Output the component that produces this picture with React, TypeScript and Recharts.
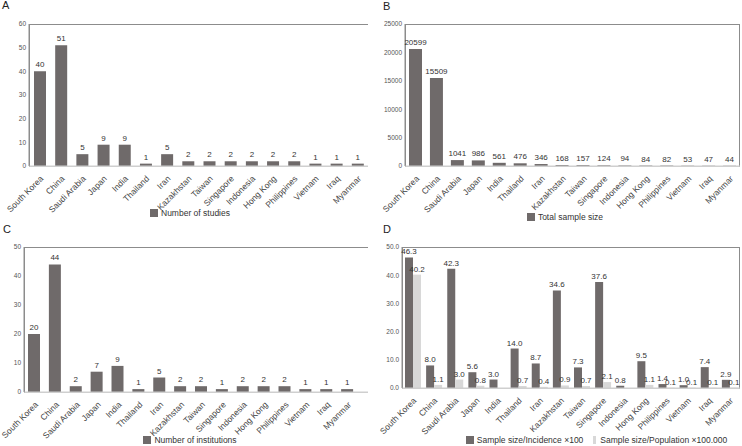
import React from "react";
import {
  BarChart,
  Bar,
  XAxis,
  YAxis,
  LabelList,
  Legend,
} from "recharts";

const countries = [
  "South Korea", "China", "Saudi Arabia", "Japan", "India", "Thailand", "Iran",
  "Kazakhstan", "Taiwan", "Singapore", "Indonesia", "Hong Kong", "Philippines",
  "Vietnam", "Iraq", "Myanmar",
];

const studies = [40, 51, 5, 9, 9, 1, 5, 2, 2, 2, 2, 2, 2, 1, 1, 1];
const sampleSize = [20599, 15509, 1041, 986, 561, 476, 346, 168, 157, 124, 94, 84, 82, 53, 47, 44];
const institutions = [20, 44, 2, 7, 9, 1, 5, 2, 2, 1, 2, 2, 2, 1, 1, 1];
const perIncidence = [46.3, 8.0, 42.3, 5.6, 3.0, 14.0, 8.7, 34.6, 7.3, 37.6, 0.8, 9.5, 1.4, 1.0, 7.4, 2.9];
const perPopulation = [40.2, 1.1, 3.0, 0.8, 0.0, 0.7, 0.4, 0.9, 0.7, 2.1, 0.0, 1.1, 0.1, 0.1, 0.1, 0.1];

const ticksA = [0, 10, 20, 30, 40, 50, 60];
const ticksB = [0, 5000, 10000, 15000, 20000, 25000];
const ticksC = [0, 10, 20, 30, 40, 50];
const ticksD = [0, 10, 20, 30, 40, 50];

const dataA = countries.map((c, i) => ({ country: c, value: studies[i] }));
const dataB = countries.map((c, i) => ({ country: c, value: sampleSize[i] }));
const dataC = countries.map((c, i) => ({ country: c, value: institutions[i] }));
const dataD = countries.map((c, i) => ({ country: c, inc: perIncidence[i], pop: perPopulation[i] }));

const FONT = "'Liberation Sans', Arial, sans-serif";
const DARK = "#6f6a6a";
const LIGHT = "#d8d8d8";
const FRAME = "#8c8c8c";
const BASE = "#cfcfcf";

const W = 371;
const H = 223;
const TOP = 24;

const renderLegend = (props: any) => {
  const { payload } = props;
  return (
    <div style={{ display: "flex", justifyContent: "center", gap: 10, fontFamily: FONT, fontSize: 8.5, lineHeight: "10px", color: "#333" }}>
      {payload.map((p: any) => (
        <div key={p.value} style={{ display: "flex", alignItems: "center", height: 10 }}>
          <svg width={p.color === LIGHT ? 4 : 8} height={8} style={{ marginRight: 3, display: "block" }}>
            <rect x={0} y={0} width={p.color === LIGHT ? 3 : 8} height={8} fill={p.color} />
          </svg>
          <span style={{ whiteSpace: "nowrap" }}>{p.value}</span>
        </div>
      ))}
    </div>
  );
};

const xAxisProps = {
  dataKey: "country",
  interval: 0 as const,
  angle: -45,
  textAnchor: "end",
  tickLine: false,
  tickMargin: 3,
  tick: { fontSize: 8.5, fill: "#444", fontFamily: FONT },
  axisLine: { stroke: BASE },
};

const yAxisProps = {
  tickLine: false,
  tickSize: 0,
  tickMargin: 3,
  tick: { fontSize: 6.5, fill: "#555", fontFamily: FONT },
  axisLine: { stroke: FRAME },
};

const labelStyle = { fontSize: 8, fill: "#333", fontFamily: FONT };

const Letter = ({ ch, x, y }: { ch: string; x: number; y: number }) => (
  <div style={{ position: "absolute", left: x, top: y, fontFamily: FONT, fontSize: 11, color: "#222", lineHeight: "11px" }}>{ch}</div>
);

// plot-area frame, built from the same layout numbers handed to the chart
const Frame = ({ yW, xH, right, box }: { yW: number; xH: number; right: number; box: boolean }) => (
  <div
    style={{
      position: "absolute",
      left: yW,
      top: TOP,
      width: W - yW - right,
      height: H - TOP - xH + 1,
      boxSizing: "border-box",
      borderLeft: `1px solid ${FRAME}`,
      borderTop: `1px solid ${FRAME}`,
      borderRight: box ? `1px solid ${FRAME}` : "none",
      borderBottom: `1px solid ${BASE}`,
      pointerEvents: "none",
    }}
  />
);

const Panel = ({ left, top, children }: { left: number; top: number; children: React.ReactNode }) => (
  <div style={{ position: "absolute", left, top, width: W, height: H }}>{children}</div>
);

export default function App() {
  return (
    <div style={{ position: "absolute", left: 0, top: 0, width: 742, height: 446, background: "#fff", overflow: "hidden" }}>
      <Letter ch="A" x={2} y={0} />
      <Letter ch="B" x={383} y={1} />
      <Letter ch="C" x={3} y={224} />
      <Letter ch="D" x={383} y={224} />

      <Panel left={0} top={0}>
        <Frame yW={29} xH={57} right={3} box={false} />
        <div style={{ position: "absolute", left: 0, top: 0 }}>
          <BarChart width={W} height={H} data={dataA} margin={{ top: TOP, right: 3, left: 0, bottom: 0 }}>
            <XAxis {...xAxisProps} height={57} />
            <YAxis {...yAxisProps} width={29} domain={[0, 60]} ticks={ticksA} />
            <Bar dataKey="value" name="Number of studies" fill={DARK} barSize={12} isAnimationActive={false}>
              <LabelList dataKey="value" position="top" offset={4} style={labelStyle} />
            </Bar>
            <Legend verticalAlign="middle" align="center" layout="horizontal" content={renderLegend} wrapperStyle={{ top: 208, left: 90, width: 200 }} />
          </BarChart>
        </div>
      </Panel>

      <Panel left={371} top={0}>
        <Frame yW={34} xH={57} right={2} box={true} />
        <div style={{ position: "absolute", left: 0, top: 0 }}>
          <BarChart width={W} height={H} data={dataB} margin={{ top: TOP, right: 2, left: 0, bottom: 0 }}>
            <XAxis {...xAxisProps} height={57} />
            <YAxis {...yAxisProps} width={34} domain={[0, 25000]} ticks={ticksB} />
            <Bar dataKey="value" name="Total sample size" fill={DARK} barSize={13} isAnimationActive={false}>
              <LabelList dataKey="value" position="top" offset={4} style={labelStyle} />
            </Bar>
            <Legend verticalAlign="middle" align="center" layout="horizontal" content={renderLegend} wrapperStyle={{ top: 212, left: 94, width: 200 }} />
          </BarChart>
        </div>
      </Panel>

      <Panel left={0} top={223}>
        <Frame yW={24} xH={54} right={3} box={false} />
        <div style={{ position: "absolute", left: 0, top: 0 }}>
          <BarChart width={W} height={H} data={dataC} margin={{ top: TOP, right: 3, left: 0, bottom: 0 }}>
            <XAxis {...xAxisProps} height={54} padding={{ left: 0, right: 10 }} />
            <YAxis {...yAxisProps} width={24} domain={[0, 50]} ticks={ticksC} />
            <Bar dataKey="value" name="Number of institutions" fill={DARK} barSize={12} isAnimationActive={false}>
              <LabelList dataKey="value" position="top" offset={4} style={labelStyle} />
            </Bar>
            <Legend verticalAlign="middle" align="center" layout="horizontal" content={renderLegend} wrapperStyle={{ top: 212, left: 90, width: 200 }} />
          </BarChart>
        </div>
      </Panel>

      <Panel left={371} top={223}>
        <Frame yW={31} xH={58} right={2} box={true} />
        <div style={{ position: "absolute", left: 0, top: 0 }}>
          <BarChart width={W} height={H} data={dataD} margin={{ top: TOP, right: 2, left: 0, bottom: 0 }} barGap={0}>
            <XAxis {...xAxisProps} height={58} />
            <YAxis {...yAxisProps} width={31} domain={[0, 50]} ticks={ticksD} tickFormatter={(v: number) => v.toFixed(1)} />
            <Bar dataKey="inc" name="Sample size/Incidence ×100" fill={DARK} barSize={8} isAnimationActive={false}>
              <LabelList dataKey="inc" position="top" offset={3} style={labelStyle} formatter={(v: any) => Number(v).toFixed(1)} />
            </Bar>
            <Bar dataKey="pop" name="Sample size/Population ×100.000" fill={LIGHT} barSize={8} isAnimationActive={false}>
              <LabelList dataKey="pop" position="top" offset={3} style={labelStyle} formatter={(v: any) => Number(v).toFixed(1)} />
            </Bar>
            <Legend verticalAlign="middle" align="center" layout="horizontal" content={renderLegend} wrapperStyle={{ top: 212, left: 95, width: 261 }} />
          </BarChart>
        </div>
      </Panel>
    </div>
  );
}
